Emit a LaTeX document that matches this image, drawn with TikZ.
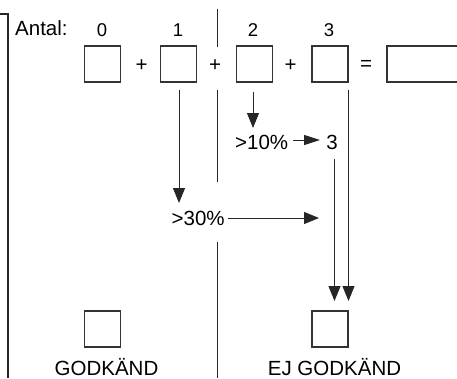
\documentclass[tikz,border=0pt]{standalone}
\usepackage{fontspec}
\setmainfont{Liberation Sans}
\usetikzlibrary{arrows.meta}
\begin{document}
\begin{tikzpicture}[x=1pt,y=-1pt,
  sq/.style={draw=black!80,line width=1.2pt,minimum width=36pt,minimum height=36pt,inner sep=0pt},
  big/.style={font=\fontsize{20.5}{24}\selectfont,inner sep=0pt},
  small/.style={font=\fontsize{18.5}{22}\selectfont,inner sep=0pt},
  ln/.style={draw=black!85,line width=1pt},
  arr/.style={ln,-{Triangle[length=15pt,width=12pt]}},
  arrs/.style={ln,-{Triangle[length=16pt,width=10pt]}}]
\useasboundingbox (0,0) rectangle (457,378);
% bracket
\draw[black!85,line width=2pt] (0,14) -- (8,14) -- (8,378);
% divider line
\draw[ln] (217,9) -- (217,47);
\draw[ln] (217,90) -- (217,182);
\draw[ln] (217,242) -- (217,378);
% header
\node[big,anchor=base west] (antal) at (15,35) {Antal:};
\node[small,anchor=base] (n0) at (102,36) {0};
\node[small,anchor=base] (n1) at (178,36) {1};
\node[small,anchor=base] (n2) at (253,36) {2};
\node[small,anchor=base] (n3) at (329,36) {3};
% top boxes
\node[sq] (b0) at (102.5,64) {};
\node[sq] (b1) at (178.5,64) {};
\node[sq] (b2) at (254.5,64) {};
\node[sq] (b3) at (330,64) {};
\draw[draw=black!80,line width=1.2pt] (465,46) -- (387,46) -- (387,82) -- (465,82);
\node[big] (p1) at (141.5,66) {+};
\node[big] (p2) at (215,66) {+};
\node[big] (p3) at (290.5,66) {+};
\node[big] (eq) at (366,65) {=};
% middle texts
\node[big,anchor=base west] (t10) at (235,149) {>10\%};
\node[big,anchor=base] (t3) at (332,149) {3};
\node[big,anchor=base west] (t30) at (171.5,225) {>30\%};
% bottom boxes
\node[sq] (g) at (102.5,329) {};
\node[sq] (ng) at (330,329) {};
\node[big,anchor=base] (tg) at (106.5,375) {GODKÄND};
\node[big,anchor=base] (tng) at (334.5,375) {EJ GODKÄND};
% connectors
\coordinate (a1s) at (179,90);
\coordinate (a1e) at (179,203);
\draw[arr] (a1s) -- (a1e);
\coordinate (a2s) at (253,92);
\coordinate (a2e) at (253,128);
\draw[arr] (a2s) -- (a2e);
\coordinate (a3s) at (293,140);
\coordinate (a3e) at (320,140);
\draw[arrs] (a3s) -- (a3e);
\coordinate (a4s) at (228,218);
\coordinate (a4e) at (319,218);
\draw[arr] (a4s) -- (a4e);
\coordinate (a5s) at (334.5,159);
\coordinate (a5e) at (334.5,301);
\draw[arr] (a5s) -- (a5e);
\coordinate (a6s) at (348.5,90);
\coordinate (a6e) at (348.5,301);
\draw[arr] (a6s) -- (a6e);
\end{tikzpicture}
\end{document}
